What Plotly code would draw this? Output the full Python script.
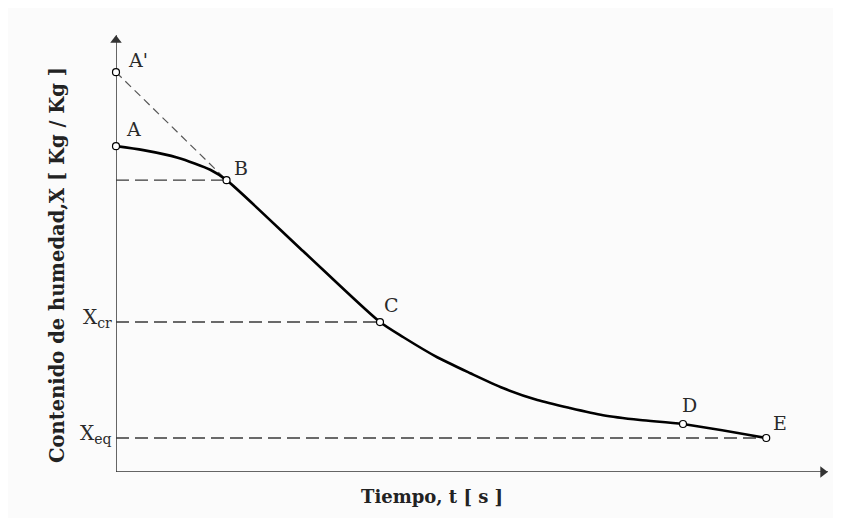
import plotly.graph_objects as go

# Drying curve (schematic) — arbitrary units
curve_t = [0.0, 0.42, 0.95, 1.45, 1.70, 2.88, 4.06, 4.42, 4.94, 5.45, 5.95, 6.48, 6.98, 7.49, 8.06, 8.72, 10.0]
curve_X = [8.15, 8.05, 7.86, 7.56, 7.30, 5.52, 3.75, 3.37, 2.87, 2.47, 2.10, 1.80, 1.60, 1.42, 1.30, 1.20, 0.85]

point_names = ["A'", "A", "B", "C", "D", "E"]
point_t = [0.0, 0.0, 1.70, 4.06, 8.72, 10.0]
point_X = [10.0, 8.15, 7.30, 3.75, 1.20, 0.85]

X_cr = 3.75
X_eq = 0.85
X_B = 7.30

t_max = 10.95
X_max = 10.93

FONT = "DejaVu Serif, Liberation Serif, serif"
DASH_COL = "#3a3a3a"
AX_COL = "#333333"

fig = go.Figure()

# axes (lines + arrowheads)
fig.add_trace(go.Scatter(x=[0, t_max], y=[0, 0], mode="lines",
                         line=dict(color=AX_COL, width=1.5), hoverinfo="skip", showlegend=False))
fig.add_trace(go.Scatter(x=[0, 0], y=[0, X_max], mode="lines",
                         line=dict(color=AX_COL, width=1.5), hoverinfo="skip", showlegend=False))
fig.add_trace(go.Scatter(x=[t_max - 0.08], y=[0], mode="markers", cliponaxis=False,
                         marker=dict(symbol="triangle-right", size=10, color=AX_COL),
                         hoverinfo="skip", showlegend=False))
fig.add_trace(go.Scatter(x=[0], y=[X_max - 0.13], mode="markers", cliponaxis=False,
                         marker=dict(symbol="triangle-up", size=10, color=AX_COL),
                         hoverinfo="skip", showlegend=False))

# horizontal dashed reference lines
for yv, xend in [(X_B, point_t[2]), (X_cr, point_t[3]), (X_eq, point_t[5])]:
    fig.add_trace(go.Scatter(x=[0, xend], y=[yv, yv], mode="lines",
                             line=dict(color=DASH_COL, width=1.4, dash="13px,6px"),
                             hoverinfo="skip", showlegend=False))

# tangent A' - B
fig.add_trace(go.Scatter(x=[point_t[0], point_t[2]], y=[point_X[0], point_X[2]], mode="lines",
                         line=dict(color="#555555", width=1.2, dash="8px,5px"),
                         hoverinfo="skip", showlegend=False))

# drying curve
fig.add_trace(go.Scatter(x=curve_t, y=curve_X, mode="lines", cliponaxis=False,
                         line=dict(color="black", width=2.6, shape="spline", smoothing=0.7),
                         hoverinfo="skip", showlegend=False))

# points
fig.add_trace(go.Scatter(x=point_t, y=point_X, mode="markers", cliponaxis=False,
                         marker=dict(symbol="circle", size=7, color="white",
                                     line=dict(color="black", width=1.2)),
                         hoverinfo="skip", showlegend=False))

# point labels
offsets = {"A'": (22, 12), "A": (17, 17), "B": (14, 12), "C": (12, 17), "D": (6, 19), "E": (14, 15)}
for name, tx, xv in zip(point_names, point_t, point_X):
    dx, dy = offsets[name]
    fig.add_annotation(x=tx, y=xv, text=name, showarrow=False, xshift=dx, yshift=dy,
                       font=dict(family=FONT, size=19, color="#2a2a2a"))

# y level labels
fig.add_annotation(x=0, y=X_cr, text="X<sub>cr</sub>", showarrow=False, xanchor="right",
                   xshift=-2, yshift=4, font=dict(family=FONT, size=20, color="#2a2a2a"))
fig.add_annotation(x=0, y=X_eq, text="X<sub>eq</sub>", showarrow=False, xanchor="right",
                   xshift=-2, yshift=4, font=dict(family=FONT, size=20, color="#2a2a2a"))

# axis titles
fig.add_annotation(xref="paper", yref="paper", x=-0.0815, y=0.4737, xanchor="center", yanchor="middle",
                   text="<b>Contenido de humedad,X [ Kg / Kg ]</b>",
                   textangle=-90, showarrow=False, font=dict(family=FONT, size=19.5, color="#222"))
fig.add_annotation(xref="paper", yref="paper", x=0.4438, y=-0.0572, xanchor="center", yanchor="middle",
                   text="<b>Tiempo, t [ s ]</b>", showarrow=False,
                   font=dict(family=FONT, size=18, color="#222"))

fig.update_xaxes(range=[0, t_max], visible=False, fixedrange=True)
fig.update_yaxes(range=[0, X_max], visible=False, fixedrange=True)

fig.update_layout(width=841, height=518,
                  margin=dict(l=108, r=21, t=27, b=54, autoexpand=False),
                  paper_bgcolor="#fbfbfb", plot_bgcolor="#fbfbfb",
                  showlegend=False)

fig.write_html("out.html")
